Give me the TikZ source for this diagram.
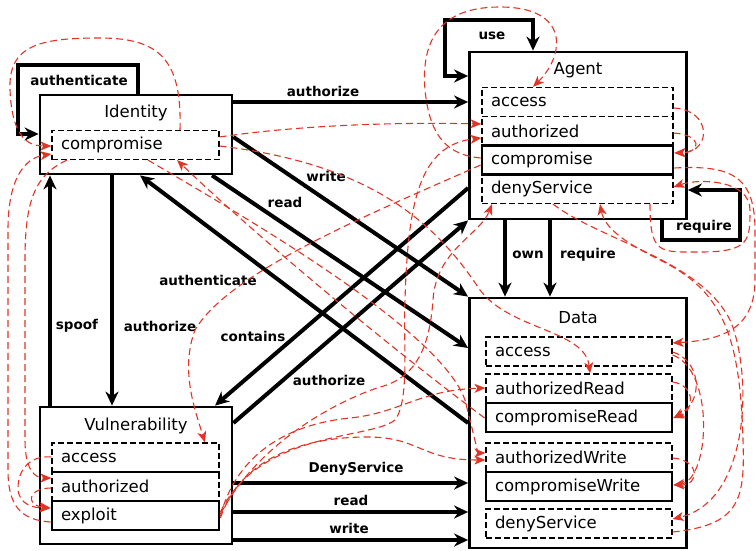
\documentclass[tikz,border=0pt]{standalone}
\usepackage{fontspec}
\setmainfont{DejaVu Sans}
\usetikzlibrary{arrows.meta, positioning}
\definecolor{flowred}{RGB}{226,52,38}
\tikzset{
  bigtip/.tip={Stealth[length=14pt,width=13pt,inset=4.5pt]},
  redtip/.tip={Stealth[length=11pt,width=9pt,inset=3pt]},
  container/.style={draw, line width=2.8pt, inner sep=0pt},
  title/.style={font=\fontsize{16.5}{18}\selectfont},
  field/.style={draw, line width=1.2pt, dash pattern=on 6pt off 3pt, minimum height=29pt, text width=#1, inner xsep=9pt, inner ysep=0pt, align=left, font=\fontsize{16.5}{18}\selectfont},
  hardfield/.style={field=#1, solid, line width=2.8pt},
  rel/.style={line width=4pt, -bigtip},
  lbl/.style={font=\bfseries\fontsize{13.5}{15}\selectfont},
  flow/.style={flowred, line width=1.1pt, dash pattern=on 7pt off 4pt, -redtip}
}
\begin{document}
\begin{tikzpicture}[x=1pt, y=-1pt]
      \useasboundingbox (0,0) rectangle (756,551);
      % nodes %
      \node[container, minimum width=192pt, minimum height=79pt] (identity) at (136,134.5) {};
      \node[container, minimum width=217pt, minimum height=167pt] (agent) at (578,135.5) {};
      \node[container, minimum width=217pt, minimum height=250pt] (data) at (578,423) {};
      \node[container, minimum width=192pt, minimum height=137pt] (vuln) at (136,475.5) {};

      \node[title] (idtitle) at (136,113) {Identity};
      \node[title] (agtitle) at (578,70) {Agent};
      \node[title] (datitle) at (578,318) {Data};
      \node[title] (vutitle) at (136,426) {Vulnerability};

      \node[field=149pt] (idcomp) at (135.5,145) {compromise};

      \node[field=173pt] (agacc) at (577.5,102) {access};
      \node[field=173pt, below of=agacc, node distance=29pt] (agauth) {authorized};
      \node[field=173pt, below of=agauth, node distance=58pt] (agdeny) {denyService};
      \node[hardfield=173pt, below of=agauth, node distance=29pt] (agcomp) {compromise};

      \node[field=168pt] (daacc) at (579,351.5) {access};
      \node[field=168pt, below of=daacc, node distance=37pt] (dauthr) {authorizedRead};
      \node[hardfield=168pt, below of=dauthr, node distance=29pt] (dacompr) {compromiseRead};
      \node[field=168pt, below of=dacompr, node distance=40pt] (dauthw) {authorizedWrite};
      \node[hardfield=168pt, below of=dauthw, node distance=29pt] (dacompw) {compromiseWrite};
      \node[field=168pt, below of=dacompw, node distance=37pt] (dadeny) {denyService};

      \node[field=149pt] (vacc) at (135.5,457.5) {access};
      \node[field=149pt, below of=vacc, node distance=29pt] (vauth) {authorized};
      \node[hardfield=149pt, below of=vauth, node distance=29pt] (vexp) {exploit};

      % edges %
      \draw[rel] ([xshift=2pt]identity.north) |- (18,65) |- (identity.west |- 0,134);
      \draw[rel, bigtip-bigtip] (agent.north -| 533,0) |- (445,20) |- (agent.west |- 0,76);
      \draw[rel] (agent.south -| 662,0) |- (740,240) |- (agent.east |- 0,190);

      \draw[rel] (identity.east |- 0,102) -- (agent.west |- 0,102);
      \draw[rel] (identity.east |- 0,137) -- (data.north west);
      \draw[rel] (identity.south -| 212,0) -- (data.west |- 0,348);
      \draw[rel] (data.west |- 0,423) -- (identity.south -| 140,0);
      \draw[rel] (identity.south -| 112,0) -- (vuln.north -| 112,0);
      \draw[rel] (vuln.north -| 50,0) -- (identity.south -| 50,0);
      \draw[rel] (agent.west |- 0,188) -- (vuln.north -| 215,0);
      \draw[rel] (vuln.east |- 0,423) -- (agent.south west);
      \draw[rel] (vuln.east |- 0,483) -- (data.west |- 0,483);
      \draw[rel] (vuln.east |- 0,512) -- (data.west |- 0,512);
      \draw[rel] (vuln.east |- 0,540) -- (data.west |- 0,540);
      \draw[rel] (agent.south -| 505,0) -- (data.north -| 505,0);
      \draw[rel] (agent.south -| 550,0) -- (data.north -| 550,0);

      \node[lbl] at (79,80) {authenticate};
      \node[lbl] at (492,36) {use};
      \node[lbl] at (704,227) {require};
      \node[lbl] at (323,91) {authorize};
      \node[lbl] at (326,176) {write};
      \node[lbl] at (285,202) {read};
      \node[lbl] at (208,280) {authenticate};
      \node[lbl] at (160,326) {authorize};
      \node[lbl] at (77,326) {spoof};
      \node[lbl] at (253,336) {contains};
      \node[lbl] at (329,380) {authorize};
      \node[lbl] at (356,469) {DenyService};
      \node[lbl] at (351,500) {read};
      \node[lbl] at (349,528) {write};
      \node[lbl] at (528,255) {own};
      \node[lbl] at (588,255) {require};

      % red flows %
      \draw[flow] (idcomp.north -| 180,0) .. controls (182,60) and (160,38) .. (100,38) .. controls (40,38) and (8,45) .. (10,90) .. controls (12,140) and (30,146) .. (idcomp.west |- 0,146);
      \draw[flow] (vexp.west |- 0,522) .. controls (20,520) and (8,505) .. (8,470) -- (8,230) .. controls (8,178) and (25,158) .. (idcomp.west |- 0,154);
      \draw[flow] (idcomp.south -| 67,0) .. controls (35,175) and (25,200) .. (25,260) -- (25,440) .. controls (25,470) and (35,478) .. (vauth.west |- 0,478);
      \draw[flow] (vacc.west |- 0,457) .. controls (30,455) and (18,470) .. (18,488) .. controls (18,505) and (35,508) .. (vexp.west |- 0,508);
      \draw[flow] (vauth.west |- 0,488) .. controls (28,488) and (25,505) .. (vexp.west |- 0,508);

      \draw[flow] (idcomp.east |- 0,137) .. controls (300,125) and (400,122) .. (agauth.west |- 0,124);
      \draw[flow] (idcomp.east |- 0,146) .. controls (380,165) and (440,230) .. (480,290) .. controls (510,330) and (585,330) .. (dauthr.north -| 590,0);
      \draw[flow] (idcomp.south -| 148,0) .. controls (250,220) and (440,330) .. (465,400) .. controls (475,440) and (478,453) .. (dauthw.west |- 0,453);
      \draw[flow] (dacompr.west |- 0,418) .. controls (380,340) and (250,230) .. (idcomp.south -| 177,0);

      \draw[flow] (agcomp.west |- 0,158) .. controls (450,155) and (430,140) .. (425,90) .. controls (420,30) and (450,7) .. (500,7) .. controls (570,7) and (565,55) .. (agacc.north -| 533,0);
      \draw[flow] (agcomp.west |- 0,165) .. controls (380,210) and (230,270) .. (195,330) .. controls (180,370) and (195,410) .. (vacc.north -| 205,0);

      \draw[flow] (vexp.east |- 0,512) .. controls (260,430) and (370,440) .. (395,420) .. controls (410,400) and (403,340) .. (405,300) .. controls (408,200) and (420,145) .. (agauth.west |- 0,138);
      \draw[flow] (vexp.east |- 0,514) .. controls (260,440) and (340,400) .. (380,387) .. controls (420,377) and (430,340) .. (433,300) .. controls (436,250) and (480,235) .. (agdeny.south -| 492,0);
      \draw[flow] (vexp.east |- 0,516) .. controls (235,460) and (280,425) .. (350,418) .. controls (400,413) and (420,390) .. (dauthr.west |- 0,388);
      \draw[flow] (vexp.east |- 0,518) .. controls (240,460) and (300,437) .. (367,437) .. controls (420,437) and (420,460) .. (dauthw.west |- 0,460);

      \draw[flow] (agacc.east |- 0,108) .. controls (712,110) and (712,152) .. (agcomp.east |- 0,153);
      \draw[flow] (agauth.east |- 0,133) .. controls (702,135) and (702,152) .. (agcomp.east |- 0,153);
      \draw[flow] (agcomp.east |- 0,168) .. controls (730,165) and (755,175) .. (755,230) -- (755,280) .. controls (755,330) and (720,340) .. (daacc.east |- 0,343);
      \draw[flow] (agdeny.south -| 650,0) .. controls (650,255) and (660,252) .. (700,252) .. controls (750,252) and (750,240) .. (750,210) .. controls (750,180) and (700,178) .. (agdeny.east |- 0,187);

      \draw[flow] (daacc.east |- 0,352) .. controls (700,360) and (705,400) .. (dacompr.east |- 0,418);
      \draw[flow] (dauthr.east |- 0,382) .. controls (695,385) and (695,410) .. (dacompr.east |- 0,418);
      \draw[flow] (daacc.east |- 0,355) .. controls (715,370) and (710,480) .. (dacompw.east |- 0,485);
      \draw[flow] (dauthw.east |- 0,458) .. controls (700,460) and (700,485) .. (dacompw.east |- 0,485);
      \draw[flow] (dadeny.east |- 0,532) .. controls (740,525) and (745,500) .. (743,440) .. controls (740,330) and (720,290) .. (660,260) .. controls (630,245) and (605,230) .. (agdeny.south -| 600,0);
      \draw[flow] (agdeny.south -| 553,0) .. controls (600,240) and (700,260) .. (730,320) .. controls (752,370) and (752,500) .. (dadeny.east |- 0,519);
\end{tikzpicture}
\end{document}
